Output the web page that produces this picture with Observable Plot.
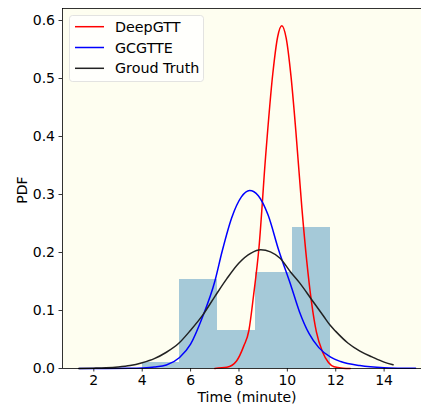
<!DOCTYPE html>
<html>
<head>
<meta charset="utf-8">
<script src="https://cdn.jsdelivr.net/npm/d3@7"></script>
<script src="https://cdn.jsdelivr.net/npm/@observablehq/plot@0.6"></script>
<style>
  html, body { margin: 0; padding: 0; background: #ffffff; }
  #wrap { width: 421px; height: 407px; overflow: hidden; position: relative; }
  #wrap svg { max-width: none !important; width: 432px; height: 407px; font-family: "DejaVu Sans", sans-serif; }
</style>
</head>
<body>
<div id="wrap"></div>
<script>
// ---- data ----
const binEdges = [4.0, 5.56, 7.11, 8.67, 10.22, 11.78];
const binDensity = [0.011, 0.154, 0.066, 0.165, 0.243];

const deepgttX = [7.0, 7.5, 7.9, 8.2, 8.41, 8.6, 8.83, 9.1, 9.4, 9.6, 9.77, 9.95, 10.15, 10.35, 10.6, 10.8, 11.0, 11.2, 11.45, 11.7, 11.93, 12.3, 12.6];
const deepgttY = [0.0002, 0.002, 0.013, 0.039, 0.0655, 0.125, 0.21, 0.365, 0.509, 0.572, 0.591, 0.57, 0.504, 0.41, 0.277, 0.186, 0.114, 0.063, 0.029, 0.0105, 0.003, 0.0005, 0.0];

const gcgtteX = [1.4, 2.5, 3.5, 4.0, 4.5, 5.0, 5.545, 6.0, 6.485, 7.0, 7.31, 7.7, 8.1, 8.44, 8.8, 9.2, 9.65, 10.14, 10.5, 10.9, 11.3, 11.79, 12.2, 13.0, 14.0, 15.3];
const gcgtteY = [0.0, 0.0001, 0.0004, 0.001, 0.0025, 0.006, 0.019, 0.042, 0.088, 0.15, 0.203, 0.26, 0.296, 0.307, 0.298, 0.265, 0.203, 0.144, 0.098, 0.06, 0.036, 0.0195, 0.012, 0.005, 0.0015, 0.0003];

const truthX = [1.37, 2.0, 2.5, 3.0, 3.5, 4.0, 4.5, 5.0, 5.5, 6.0, 6.5, 7.0, 7.5, 8.0, 8.5, 8.9, 9.3, 9.7, 10.14, 10.5, 11.0, 11.5, 11.78, 12.0, 12.5, 13.0, 13.5, 14.0, 14.37];
const truthY = [0.0002, 0.0006, 0.0012, 0.0025, 0.005, 0.01, 0.017, 0.028, 0.043, 0.066, 0.092, 0.124, 0.155, 0.182, 0.199, 0.2046, 0.201, 0.19, 0.166, 0.148, 0.119, 0.09, 0.074, 0.064, 0.044, 0.03, 0.02, 0.011, 0.0064];

const seriesNames = ["DeepGTT", "GCGTTE", "Groud Truth"];
const seriesColors = ["#ff0000", "#0000ff", "#222222"];

const xTicks = [2, 4, 6, 8, 10, 12, 14];
const yTicks = [0.0, 0.1, 0.2, 0.3, 0.4, 0.5, 0.6];
const xLabel = "Time (minute)";
const yLabel = "PDF";

// ---- build tables ----
const bins = binDensity.map((d, i) => ({x1: binEdges[i], x2: binEdges[i + 1], y: d}));
const toPts = (xs, ys) => xs.map((x, i) => ({x, y: ys[i]}));
const curves = [toPts(deepgttX, deepgttY), toPts(gcgtteX, gcgtteY), toPts(truthX, truthY)];

const W = 432, H = 407;
const chart = Plot.plot({
  width: W,
  height: H,
  marginLeft: 62,
  marginRight: 0,
  marginTop: 8,
  marginBottom: 39,
  style: {fontFamily: "DejaVu Sans, sans-serif", fontSize: "14px", color: "#000", background: "transparent", maxWidth: "none"},
  x: {domain: [0.705, 16.0], label: null},
  y: {domain: [0, 0.6207], label: null},
  marks: [
    Plot.frame({fill: "#fefef0", stroke: null}),
    Plot.rectY(bins, {x1: "x1", x2: "x2", y: "y", fill: "#a5c9d8", inset: 0, shapeRendering: "crispEdges"}),
    ...curves.map((c, i) => Plot.line(c, {x: "x", y: "y", stroke: seriesColors[i], strokeWidth: 1.5, curve: "monotone-x"})),
    Plot.axisX({ticks: xTicks, tickSize: 3.5, tickPadding: 3, tickFormat: d => String(d), fontSize: 14, stroke: "#000", strokeWidth: 0.8}),
    Plot.axisY({ticks: yTicks, tickSize: 3.5, tickPadding: 4, tickFormat: d3.format(".1f"), fontSize: 14, stroke: "#000", strokeWidth: 0.8}),
    Plot.frame({stroke: "#000", strokeWidth: 0.8})
  ]
});
document.getElementById("wrap").appendChild(chart);

// ---- axis titles and legend ----
const svg = d3.select(chart);
svg.append("text")
  .attr("x", (62 + W) / 2).attr("y", 401.5)
  .attr("text-anchor", "middle")
  .attr("font-size", 14).attr("fill", "#000")
  .text(xLabel);
svg.append("text")
  .attr("transform", "translate(26.5,190) rotate(-90)")
  .attr("text-anchor", "middle")
  .attr("font-size", 14).attr("fill", "#000")
  .text(yLabel);

const lg = svg.append("g").attr("text-anchor", "start");
lg.append("rect")
  .attr("x", 69.5).attr("y", 15.5).attr("width", 134).attr("height", 66)
  .attr("rx", 3).attr("fill", "#ffffff").attr("fill-opacity", 0.8)
  .attr("stroke", "#dcdcdc").attr("stroke-width", 0.8);
const rowsY = [26.7, 47.5, 68.3];
seriesNames.forEach((name, i) => {
  lg.append("line")
    .attr("x1", 75).attr("x2", 104).attr("y1", rowsY[i]).attr("y2", rowsY[i])
    .attr("stroke", seriesColors[i]).attr("stroke-width", 1.5);
  lg.append("text")
    .attr("x", 115).attr("y", rowsY[i]).attr("dy", "0.36em")
    .attr("text-anchor", "start")
    .attr("font-size", 14.3).attr("fill", "#000")
    .text(name);
});
</script>
</body>
</html>
